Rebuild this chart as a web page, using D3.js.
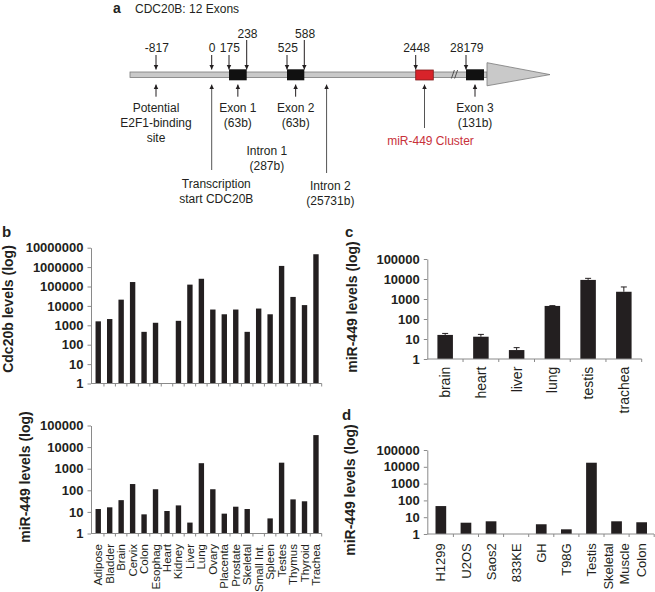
<!DOCTYPE html>
<html><head><meta charset="utf-8">
<script src="https://cdn.jsdelivr.net/npm/d3@7"></script>
<style>
body{margin:0;background:#fff}
svg{display:block;font-family:"Liberation Sans",Arial,Helvetica,sans-serif}
</style>
</head><body>
<svg id="fig" width="655" height="592"></svg>
<script>
// ---------------- DATA ----------------
const tissues = ["Adipose","Bladder","Brain","Cervix","Colon","Esophag","Heart","Kidney","Liver","Lung","Ovary","Placenta","Prostate","Skeletal","Small Int.","Spleen","Testes","Thymus","Thyroid","Trachea"];
const cdc20bLevels = [1600, 2100, 21000, 170000, 460, 1350, null, 1700, 125000, 250000, 6500, 3700, 6500, 460, 7300, 3700, 1150000, 29000, 11000, 4600000];
const mir449Tissue = [13.6, 16.3, 35, 195, 7.7, 112, 11, 20, 3.2, 1800, 112, 8.3, 17.4, 13.6, null, 5, 1900, 38, 31, 36000];

const mouseTissues = ["brain","heart","liver","lung","testis","trachea"];
const mir449Mouse = [16, 13, 2.8, 450, 9000, 2300];
const mir449MouseErr = [3, 4, 0.9, 15, 1800, 1700];

const cellLines = ["H1299","U2OS","Saos2","833KE","GH","T98G","Testis","Skeletal Muscle","Colon"];
const mir449Cells = [46, 4.7, 5.7, null, 3.8, 1.9, 17500, 5.7, 5.0];

const ticks7 = [1,10,100,1000,10000,100000,1000000,10000000];
const ticks5 = [1,10,100,1000,10000,100000];

// gene schematic (genomic positions relative to transcription start)
const geneTitle = "CDC20B: 12 Exons";
const markerPositions = [-817, 0, 175, 238, 525, 588, 2448, 28179];
const raisedMarkers = [238, 588];
const exons = [
  {name:"Exon 1", size:"(63b)", start:175, end:238},
  {name:"Exon 2", size:"(63b)", start:525, end:588},
  {name:"Exon 3", size:"(131b)", start:28179, end:28310}
];
const mirCluster = {name:"miR-449 Cluster", start:2448, end:2760};
const e2f1Site = {lines:["Potential","E2F1-binding","site"], pos:-817};
const tssSite = {lines:["Transcription","start CDC20B"], pos:0};
const intron1 = {lines:["Intron 1","(287b)"], start:238, end:525};
const intron2 = {lines:["Intron 2","(25731b)"], pos:960};
const geneSpan = [-1300, 28500];
const breakPos = 18000;

// ---------------- LAYOUT ----------------
const svg = d3.select("#fig");
const INK = "#231f20";
const AXIS = "#8a8a8a";

// piecewise (non-proportional) schematic scale
const gx = d3.scaleLinear()
  .domain([-1300, -817, 0, 175, 238, 525, 588, 2448, 2760, 28179, 28310, 28500])
  .range([130, 156, 211.7, 229, 246.7, 287, 304.3, 415.7, 433.3, 466, 484, 487]);

const defs = svg.append("defs");
defs.append("marker").attr("id","ah")
  .attr("viewBox","0 0 10 10").attr("refX",10).attr("refY",5)
  .attr("markerWidth",4.5).attr("markerHeight",6).attr("markerUnits","userSpaceOnUse")
  .attr("orient","auto")
  .append("path").attr("d","M0,0 L10,5 L0,10 z").attr("fill",INK);

// ---------- Panel a ----------
const ga = svg.append("g").attr("font-size",12).attr("fill",INK);
ga.append("text").attr("x",113).attr("y",13).attr("font-weight","bold").attr("font-size",14).text("a");
ga.append("text").attr("x",135).attr("y",13).text(geneTitle);

const barY = 72, barH = 5.5;
ga.append("rect").attr("x",gx(geneSpan[0])).attr("y",barY)
  .attr("width",gx(geneSpan[1])-gx(geneSpan[0])).attr("height",barH)
  .attr("fill","#c9c9c9").attr("stroke","#7a7a7a").attr("stroke-width",0.8);
// arrow head
const ahx = gx(geneSpan[1]);
ga.append("path").attr("d",`M${ahx},62.7 L550,74.6 L${ahx},85.8 Z`)
  .attr("fill","#c9c9c9").attr("stroke","#7a7a7a").attr("stroke-width",0.8);
// break marks
const bx = gx(breakPos);
[0,3.2].forEach(o=>{
  ga.append("line").attr("x1",bx+o-1.5).attr("y1",78.5).attr("x2",bx+o+1.5).attr("y2",70)
    .attr("stroke","#444").attr("stroke-width",0.9);
});
// exons
ga.selectAll("rect.exon").data(exons).join("rect").attr("class","exon")
  .attr("x",d=>gx(d.start)).attr("y",69.3).attr("width",d=>gx(d.end)-gx(d.start)).attr("height",11)
  .attr("fill","#111");
// mir cluster
ga.append("rect").attr("x",gx(mirCluster.start)).attr("y",70)
  .attr("width",gx(mirCluster.end)-gx(mirCluster.start)).attr("height",10)
  .attr("fill","#d8232a").attr("stroke","#7f1d1d").attr("stroke-width",0.8);

// upper position arrows
markerPositions.forEach(p=>{
  const raised = raisedMarkers.includes(p);
  const x = gx(p);
  ga.append("line").attr("x1",x).attr("x2",x).attr("y1",raised?40:55).attr("y2",69.5)
    .attr("stroke",INK).attr("stroke-width",1).attr("marker-end","url(#ah)");
  ga.append("text").attr("x",x+ (p===0?0.5:0.8)).attr("y",raised?38.3:51.7)
    .attr("text-anchor","middle").text(p);
});

function upArrow(x, yBottom, color){
  ga.append("line").attr("x1",x).attr("x2",x).attr("y1",yBottom).attr("y2",84.5)
    .attr("stroke",color||INK).attr("stroke-width",1).attr("marker-end","url(#ah)");
}
function textLines(lines, x, y0, color){
  lines.forEach((t,i)=>ga.append("text").attr("x",x).attr("y",y0+i*15)
    .attr("text-anchor","middle").attr("fill",color||INK).text(t));
}
// E2F1
upArrow(gx(e2f1Site.pos), 96.7);
textLines(e2f1Site.lines, gx(e2f1Site.pos), 111.7);
// exons labels
exons.forEach(e=>{
  const cx = (gx(e.start)+gx(e.end))/2;
  upArrow(cx, 96.7);
  textLines([e.name, e.size], cx, 111.7);
});
// TSS
upArrow(gx(tssSite.pos), 170, "#555");
textLines(tssSite.lines, gx(tssSite.pos)+4.6, 188);
// intron 1
textLines(intron1.lines, (gx(intron1.start)+gx(intron1.end))/2, 155);
// intron 2
upArrow(gx(intron2.pos), 173, "#555");
textLines(intron2.lines, gx(intron2.pos)+3.8, 190);
// miR cluster
const mcx = (gx(mirCluster.start)+gx(mirCluster.end))/2;
upArrow(mcx, 128, "#555");
textLines([mirCluster.name], mcx+6, 145, "#c8313a");

// ---------- generic log bar chart ----------
function logBarPanel(o){
  const g = svg.append("g");
  const x = d3.scaleBand().domain(o.cats).range(o.band).paddingInner(o.pad).paddingOuter(o.pad/2);
  const y = d3.scaleLog().domain([1, o.max]).range([o.yBot, o.yTop]);
  // bars
  const data = o.cats.map((c,i)=>({c, v:o.vals[i], e:o.errs?o.errs[i]:null})).filter(d=>d.v!=null);
  g.selectAll("rect.bar").data(data).join("rect")
    .attr("x",d=>x(d.c)).attr("width",x.bandwidth())
    .attr("y",d=>y(d.v)).attr("height",d=>o.yBot-y(d.v))
    .attr("fill",INK);
  // error bars
  if(o.errs){
    const eg = g.selectAll("g.err").data(data).join("g");
    eg.append("line").attr("x1",d=>x(d.c)+x.bandwidth()/2).attr("x2",d=>x(d.c)+x.bandwidth()/2)
      .attr("y1",d=>y(d.v)).attr("y2",d=>y(d.v+d.e)).attr("stroke",INK).attr("stroke-width",1);
    eg.append("line").attr("x1",d=>x(d.c)+x.bandwidth()/2-3).attr("x2",d=>x(d.c)+x.bandwidth()/2+3)
      .attr("y1",d=>y(d.v+d.e)).attr("y2",d=>y(d.v+d.e)).attr("stroke",INK).attr("stroke-width",1);
  }
  // y axis
  const ya = g.append("g").attr("transform",`translate(${o.axisX0},0)`)
    .call(d3.axisLeft(y).tickValues(o.ticks).tickFormat(d3.format("d")).tickSize(3.5).tickPadding(4).tickSizeOuter(0));
  ya.select(".domain").attr("stroke",AXIS);
  ya.selectAll(".tick line").attr("stroke",AXIS);
  ya.selectAll(".tick text").attr("fill",INK).attr("font-size",13).attr("font-weight","bold")
    .attr("font-family",'"Liberation Sans",Arial,sans-serif');
  // x axis line + boundary ticks
  g.append("line").attr("x1",o.axisX0).attr("x2",o.axisX1).attr("y1",o.yBot).attr("y2",o.yBot)
    .attr("stroke",AXIS).attr("stroke-width",1);
  const bounds = o.cats.map(c=>x(c)-x.step()*x.paddingInner()/2).concat([x(o.cats[o.cats.length-1])+x.bandwidth()+x.step()*x.paddingInner()/2]);
  g.selectAll("line.xt").data(bounds.slice(1)).join("line")
    .attr("x1",d=>d).attr("x2",d=>d).attr("y1",o.yBot).attr("y2",o.yBot+3)
    .attr("stroke",AXIS).attr("stroke-width",1);
  // category labels
  if(o.showLabels){
    const lg = g.selectAll("text.cat").data(o.cats).join("text")
      .attr("transform",d=>`translate(${x(d)+x.bandwidth()/2},${o.labelTop}) rotate(-90)`)
      .attr("text-anchor","end").attr("font-size",o.labelSize).attr("fill",INK);
    lg.each(function(d){
      const parts = d.split(" ");
      const t = d3.select(this);
      if(o.wrap && parts.length>1){
        t.append("tspan").attr("x",0).attr("dy","-0.25em").text(parts[0]);
        t.append("tspan").attr("x",0).attr("dy","1.2em").text(parts.slice(1).join(" "));
      } else {
        t.append("tspan").attr("x",0).attr("dy","0.35em").text(d);
      }
    });
  }
  // y title
  g.append("text").attr("transform",`translate(${o.titleX},${o.titleY}) rotate(-90)`)
    .attr("text-anchor","middle").attr("dy","0.35em").attr("font-size",14).attr("font-weight","bold")
    .attr("fill",INK).text(o.title);
  return g;
}

// ---------- Panel b ----------
svg.append("text").attr("x",2).attr("y",237).attr("font-size",15).attr("font-weight","bold").attr("fill",INK).text("b");
logBarPanel({cats:tissues, vals:cdc20bLevels, band:[92.5,321.7], pad:0.53, max:1e7, ticks:ticks7,
  yTop:247.7, yBot:383.5, axisX0:91, axisX1:321.7, showLabels:false,
  title:"Cdc20b levels (log)", titleX:8, titleY:309});
logBarPanel({cats:tissues, vals:mir449Tissue, band:[92.5,321.7], pad:0.53, max:1e5, ticks:ticks5,
  yTop:425.5, yBot:533.5, axisX0:91, axisX1:321.7, showLabels:true, labelTop:544, labelSize:11.5,
  title:"miR-449 levels (log)", titleX:25.5, titleY:477});

// ---------- Panel c ----------
svg.append("text").attr("x",345).attr("y",236.5).attr("font-size",15).attr("font-weight","bold").attr("fill",INK).text("c");
logBarPanel({cats:mouseTissues, vals:mir449Mouse, errs:mir449MouseErr, band:[427.3,641.7], pad:0.566, max:1e5, ticks:ticks5,
  yTop:259, yBot:359, axisX0:427.3, axisX1:641.7, showLabels:true, labelTop:366.7, labelSize:14,
  title:"miR-449 levels (log)", titleX:352, titleY:307});

// ---------- Panel d ----------
svg.append("text").attr("x",342).attr("y",420).attr("font-size",15).attr("font-weight","bold").attr("fill",INK).text("d");
logBarPanel({cats:cellLines, vals:mir449Cells, band:[428.3,654.2], pad:0.574, max:1e5, ticks:ticks5,
  yTop:450, yBot:534, axisX0:427.3, axisX1:654, showLabels:true, wrap:true, labelTop:543.3, labelSize:13,
  title:"miR-449 levels (log)", titleX:350, titleY:490});
</script>
</body></html>
